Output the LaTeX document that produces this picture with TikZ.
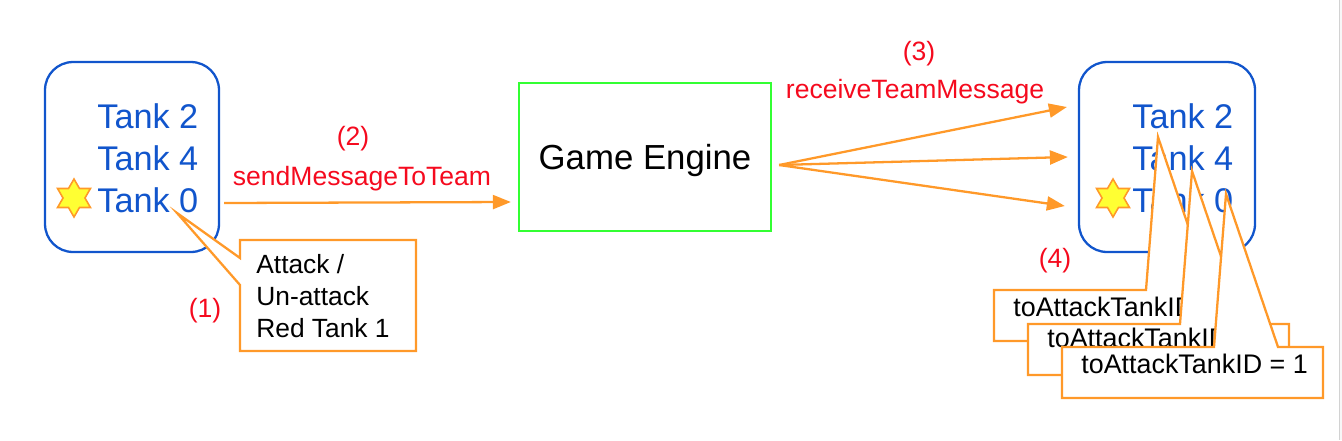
\documentclass[tikz,border=0pt]{standalone}
\usepackage{fontspec}
\setmainfont{Liberation Sans}
\usetikzlibrary{arrows.meta}
\usetikzlibrary{shapes.geometric}

\definecolor{teamblue}{RGB}{17,85,204}
\definecolor{msgorange}{RGB}{255,153,41}
\definecolor{enginegreen}{RGB}{51,255,51}
\definecolor{steplabel}{RGB}{245,10,30}
\definecolor{staryellow}{RGB}{255,255,51}

\begin{document}
\begin{tikzpicture}[x=0.02cm, y=-0.02cm,
  teambox/.style={draw=teamblue, line width=1.3pt, rounded corners=0.56cm, minimum height=3.8cm},
  tank/.style={anchor=base west, inner sep=0pt, text=teamblue, font=\fontsize{19.5}{23}\selectfont},
  leader/.style={star, star points=6, star point ratio=1.732, minimum size=0.76cm, inner sep=0pt, draw=msgorange, fill=staryellow, line width=0.9pt},
  flow/.style={draw=msgorange, line width=1.3pt, -{Triangle[length=0.36cm, width=0.28cm]}},
  steptext/.style={anchor=base, inner sep=0pt, text=steplabel, font=\fontsize{15.1}{18}\selectfont},
  note/.style={draw=msgorange, fill=white, line width=1.3pt, line join=miter},
  notetext/.style={anchor=base west, inner sep=0pt, font=\fontsize{15}{18}\selectfont}]
\useasboundingbox (0,0) rectangle (1342,440);
\fill[gray!6] (1339,0) rectangle (1342,440);
\draw[gray!35] (1339,0) -- (1339,440);

% sending team
\node [teambox, minimum width=3.48cm] (lteam) at (132,157) {};
\node [tank] (l2) at (97,128) {Tank 2};
\node [tank] (l4) at (97,170) {Tank 4};
\node [tank] (l0) at (97,212) {Tank 0};
\node [leader] (lstar) at (74,198) {};

% engine
\node [draw=enginegreen, line width=1.3pt, minimum width=5.04cm, minimum height=2.96cm, text depth=0pt, font=\fontsize{19.8}{24}\selectfont] (engine) at (645,157) {Game Engine};

% receiving team
\node [teambox, minimum width=3.52cm] (rteam) at (1167,157) {};
\node [tank] (r2) at (1132,128) {Tank 2};
\node [tank] (r4) at (1132,170) {Tank 4};
\node [tank] (r0) at (1132,212) {Tank 0};
\node [leader] (rstar) at (1113,198) {};

\draw[flow] ([shift={(4,46)}]lteam.east) -- ([shift={(-7,45)}]engine.west);
\draw[flow] ([shift={(7,8)}]engine.east) -- ([shift={(-11,-50)}]rteam.west);
\draw[flow] ([shift={(7,8)}]engine.east) -- ([shift={(-10,0)}]rteam.west);
\draw[flow] ([shift={(7,8)}]engine.east) -- ([shift={(-13,49)}]rteam.west);

\node [steptext] (s1) at (205,317) {(1)};
\node [steptext] (s2) at (353,145) {(2)};
\node [steptext] (sendlbl) at (362,185) {sendMessageToTeam};
\node [steptext] (s3) at (919,60) {(3)};
\node [steptext] (recvlbl) at (915,98) {receiveTeamMessage};
\node [steptext] (s4) at (1055,267) {(4)};

% callouts
\draw[note] (240,240) -- (416,240) -- (416,351) -- (240,351) -- (240,285) -- (177,213) -- (240,258) -- cycle;
\node [notetext] (a1) at (256,273) {Attack /};
\node [notetext] (a2) at (256,305) {Un-attack};
\node [notetext] (a3) at (256,337) {Red Tank 1};

\foreach \i/\dx/\dy/\w/\ty/\txt in {1/0/0/226/26/toAttackTankID, 2/34/34/261/23/toAttackTankID, 3/68/57/261/26/toAttackTankID = 1} {
  \begin{scope}[shift={(994+\dx,290+\dy)}]
  \draw[note] (0,0) -- (152,0) -- (164,-153) -- (216,0) -- (\w,0) -- (\w,51) -- (0,51) -- cycle;
  \node [notetext, font=\fontsize{15.3}{18}\selectfont] (id\i) at (19,\ty) {\txt};
  \end{scope}
}
\end{tikzpicture}
\end{document}
